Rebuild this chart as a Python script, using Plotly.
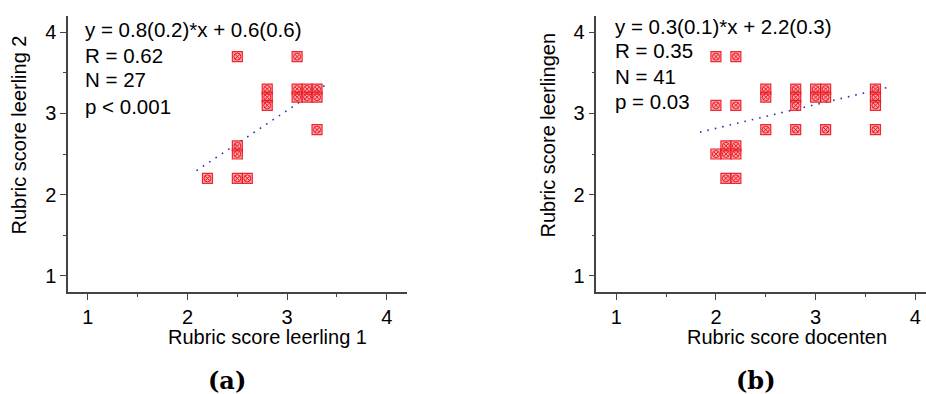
import plotly.graph_objects as go

W, H = 926, 394

# ---------------- data ----------------
a_x = [2.5, 3.1, 2.8, 2.8, 2.8, 3.1, 3.1, 3.2, 3.2, 3.3, 3.3, 3.3, 2.5, 2.5, 2.2, 2.5, 2.6]
a_y = [3.7, 3.7, 3.3, 3.2, 3.1, 3.3, 3.2, 3.3, 3.2, 3.3, 3.2, 2.8, 2.6, 2.5, 2.2, 2.2, 2.2]
a_fit_slope, a_fit_intercept = 0.815, 0.592
a_fit_x = [2.09, 3.39]
a_stats = ["y = 0.8(0.2)*x + 0.6(0.6)", "R = 0.62", "N = 27", "p < 0.001"]

b_x = [2.0, 2.2, 2.0, 2.2, 2.5, 2.5, 2.8, 2.8, 2.8, 3.0, 3.0, 3.1, 3.1, 3.6, 3.6, 3.6,
       2.5, 2.8, 3.1, 3.6, 2.1, 2.2, 2.0, 2.1, 2.2, 2.1, 2.2]
b_y = [3.7, 3.7, 3.1, 3.1, 3.3, 3.2, 3.3, 3.2, 3.1, 3.3, 3.2, 3.3, 3.2, 3.3, 3.2, 3.1,
       2.8, 2.8, 2.8, 2.8, 2.6, 2.6, 2.5, 2.5, 2.5, 2.2, 2.2]
b_fit_slope, b_fit_intercept = 0.293, 2.23
b_fit_x = [1.84, 3.76]
b_stats = ["y = 0.3(0.1)*x + 2.2(0.3)", "R = 0.35", "N = 41", "p = 0.03"]

tick_vals = [1, 2, 3, 4]
tick_text = ["1", "2", "3", "4"]

titles = {
    "a_x": "Rubric score leerling 1", "a_y": "Rubric score leerling 2",
    "b_x": "Rubric score docenten", "b_y": "Rubric score leerlingen",
}
captions = ["(a)", "(b)"]

# ---------------- layout helpers ----------------
FONT = "Liberation Sans, Arial, sans-serif"
def px(x):
    return x / W
def py(y):
    return 1 - y / H

fig = go.Figure()

def add_panel(xs, ys, slope, intercept, fx, xa, ya):
    fy = [slope * v + intercept for v in fx]
    fig.add_trace(go.Scatter(x=fx, y=fy, mode="lines", xaxis=xa, yaxis=ya,
                             line=dict(color="#3030b0", width=1.6, dash="1.6px,6px"),
                             showlegend=False, hoverinfo="skip"))
    fig.add_trace(go.Scatter(x=xs, y=ys, mode="markers", xaxis=xa, yaxis=ya,
                             marker=dict(symbol="square", size=10,
                                         color="rgba(255,80,90,0.5)",
                                         line=dict(color="rgba(235,20,30,0.9)", width=1.2)),
                             showlegend=False))
    fig.add_trace(go.Scatter(x=xs, y=ys, mode="markers", xaxis=xa, yaxis=ya,
                             marker=dict(symbol="circle-x-open", size=7,
                                         color="rgba(230,20,30,0.95)",
                                         line=dict(color="rgba(230,20,30,0.95)", width=1)),
                             showlegend=False))

add_panel(a_x, a_y, a_fit_slope, a_fit_intercept, a_fit_x, "x", "y")
add_panel(b_x, b_y, b_fit_slope, b_fit_intercept, b_fit_x, "x2", "y2")

axis_common = dict(
    showgrid=False, zeroline=False, showline=True, linecolor="#444444", linewidth=1.5,
    ticks="outside", ticklen=6, tickwidth=1.2, tickcolor="#444444",
    tickvals=tick_vals, ticktext=tick_text,
    tickfont=dict(family=FONT, size=20, color="black"),
    minor=dict(ticks="outside", ticklen=3, tickwidth=1.2, tickcolor="#444444",
               tick0=0.5, dtick=0.5),
    fixedrange=True,
)
ydom = [py(292), py(16)]

fig.update_layout(
    width=W, height=H, margin=dict(l=0, r=0, t=0, b=0),
    paper_bgcolor="white", plot_bgcolor="white",
    xaxis=dict(domain=[px(68), px(406.7)], range=[0.8, 4.2], anchor="y", **axis_common),
    yaxis=dict(domain=ydom, range=[0.8, 4.2], anchor="x", **axis_common),
    xaxis2=dict(domain=[px(596.3), 1.0], range=[0.8, 0.8 + (W - 596.3) / 99.7], anchor="y2", **axis_common),
    yaxis2=dict(domain=ydom, range=[0.8, 4.2], anchor="x2", **axis_common),
)

ann = []
def text(x, y, s, size=20, xanchor="left", angle=0, fam=FONT):
    ann.append(dict(x=px(x), y=py(y), xref="paper", yref="paper", text=s,
                    showarrow=False, xanchor=xanchor, yanchor="middle", textangle=angle,
                    font=dict(family=fam, size=size, color="black")))

for s, y in zip(a_stats, [28.7, 54, 79, 105]):
    text(83, y + 1, s, size=20.5)
for s, y in zip(b_stats, [25.3, 49.7, 75, 100.7]):
    text(613, y + 1, s, size=20.5)

text(267.5, 337, titles["a_x"], xanchor="center")
text(786.5, 337, titles["b_x"], xanchor="center")
text(18, 135.5, titles["a_y"], xanchor="center", angle=-90)
text(547, 135.5, titles["b_y"], xanchor="center", angle=-90)

for s, x in zip(captions, [227, 756]):
    text(x, 380, "<b>" + s + "</b>", size=24, xanchor="center", fam="DejaVu Serif, serif")

fig.update_layout(annotations=ann)
fig.write_html("out.html")
